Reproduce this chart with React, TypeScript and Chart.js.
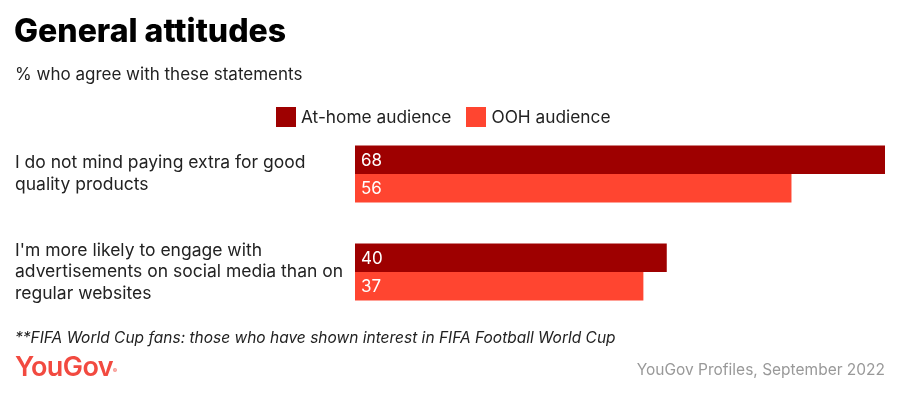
import React, { useEffect, useRef } from "react";
import { Chart, registerables } from "chart.js";

Chart.register(...registerables);

const categories: string[][] = [
  ["I do not mind paying extra for good", "quality products"],
  ["I'm more likely to engage with", "advertisements on social media than on", "regular websites"],
];
const seriesNames = ["At-home audience", "OOH audience"];
const atHome = [68, 40];
const ooh = [56, 37];
const colors = ["#9e0000", "#ff4530"];

const FONT = "Inter, 'Open Sans', sans-serif";

const valueLabels = {
  id: "valueLabels",
  afterDatasetsDraw(chart: any) {
    const ctx = chart.ctx;
    ctx.save();
    ctx.font = `400 17px ${FONT}`;
    ctx.fillStyle = "#ffffff";
    ctx.textAlign = "left";
    ctx.textBaseline = "middle";
    chart.data.datasets.forEach((ds: any, i: number) => {
      const meta = chart.getDatasetMeta(i);
      meta.data.forEach((el: any, j: number) => {
        ctx.fillText(String(ds.data[j]), el.base + 6, el.y + 1);
      });
    });
    ctx.restore();
  },
};

export default function App() {
  const ref = useRef<HTMLCanvasElement | null>(null);
  useEffect(() => {
    document.body.style.margin = "0";
    const chart = new Chart(ref.current!, {
      type: "bar",
      data: {
        labels: categories,
        datasets: [
          { label: seriesNames[0], data: atHome, backgroundColor: colors[0], borderWidth: 0 },
          { label: seriesNames[1], data: ooh, backgroundColor: colors[1], borderWidth: 0 },
        ],
      },
      options: {
        indexAxis: "y",
        animation: false,
        responsive: false,
        maintainAspectRatio: false,
        layout: { padding: { left: 15, right: 16, top: 125, bottom: 78 } },
        datasets: { bar: { categoryPercentage: 0.58, barPercentage: 1.0 } },
        plugins: { legend: { display: false }, tooltip: { enabled: false }, title: { display: false } },
        scales: {
          x: { display: false, min: 0, max: 68 },
          y: {
            grid: { display: false },
            border: { display: false },
            ticks: {
              crossAlign: "far",
              color: "#222222",
              padding: 0,
              font: { family: FONT, size: 17.5, lineHeight: 1.24 },
            },
            afterFit(scale: any) {
              scale.width = 340;
            },
          },
        },
      },
      plugins: [valueLabels],
    } as any);
    return () => chart.destroy();
  }, []);

  return (
    <div style={{ position: "fixed", left: 0, top: 0, width: 901, height: 399, background: "#fff", fontFamily: FONT, overflow: "hidden" }}>
      <canvas ref={ref} width={901} height={399} style={{ position: "absolute", left: 0, top: 0 }} />
      <div style={{ position: "absolute", left: 14, top: 11, fontSize: 32, fontWeight: 800, color: "#000", letterSpacing: 0, lineHeight: "40px" }}>
        General attitudes
      </div>
      <div style={{ position: "absolute", left: 15, top: 64, fontSize: 17, color: "#222", lineHeight: "20px" }}>
        % who agree with these statements
      </div>
      <div style={{ position: "absolute", left: 276, top: 107, display: "flex", alignItems: "center", fontSize: 17.3, color: "#222", lineHeight: "20px" }}>
        {seriesNames.map((n, i) => (
          <div key={n} style={{ display: "flex", alignItems: "center", marginRight: 15 }}>
            <span style={{ display: "inline-block", width: 20, height: 20, background: colors[i], marginRight: 5 }} />
            <span>{n}</span>
          </div>
        ))}
      </div>
      <div style={{ position: "absolute", left: 15, top: 328, fontSize: 15.5, fontStyle: "italic", color: "#222", lineHeight: "20px" }}>
        **FIFA World Cup fans: those who have shown interest in FIFA Football World Cup
      </div>
      <div style={{ position: "absolute", left: 15, top: 351, fontSize: 27, fontWeight: 600, color: "#f24a40", letterSpacing: -0.6, lineHeight: "32px" }}>
        YouGov<sup style={{ fontSize: 6, verticalAlign: "top", letterSpacing: 0, position: "relative", top: 4 }}>®</sup>
      </div>
      <div style={{ position: "absolute", right: 16, top: 360, fontSize: 15.5, color: "#999", lineHeight: "20px" }}>
        YouGov Profiles, September 2022
      </div>
    </div>
  );
}
